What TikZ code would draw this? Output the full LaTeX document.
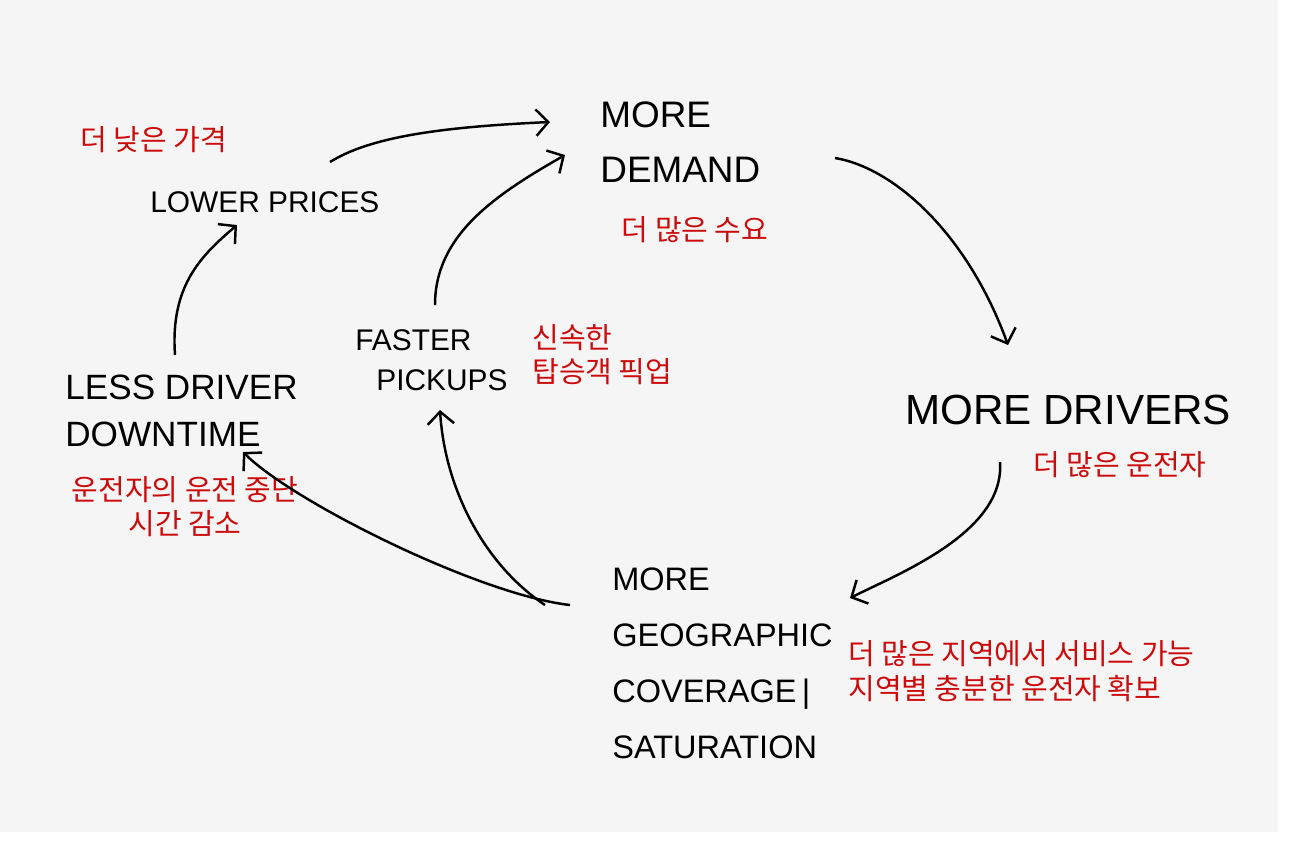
\documentclass[tikz,border=0pt]{standalone}
\usepackage{fontspec}
\setmainfont{Liberation Sans}
\newfontfamily\krfont{Noto Sans CJK KR}
\usetikzlibrary{calc}
\usetikzlibrary{arrows.meta}
\definecolor{krred}{RGB}{204,12,12}
\tikzset{hand/.style={inner sep=0, black, align=left},
         note/.style={inner sep=0, krred, font=\krfont\fontsize{16.5}{19.5}\selectfont},
         flow/.style={line width=1.4pt, -{Straight Barb[length=7pt,width=15pt,line width=1.4pt]}}}

\begin{document}
\begin{tikzpicture}  [x=.02cm, y=-.02cm]
\useasboundingbox (0,0) rectangle (1304,853);
\fill[white] (0,0) rectangle (1304,853);
\fill[black!4] (0,0) rectangle (1278,832);

\node[hand, anchor=west, font=\fontsize{17}{20}\selectfont] (prices) at (150,202) {LOWER PRICES};
\node[note, anchor=west] (kprices) at (80,140) {더 낮은 가격};
\node[hand, anchor=west, font=\fontsize{21}{31}\selectfont] (demand) at (600,142) {MORE\\DEMAND};
\node[note] (kdemand) at (695,230) {더 많은 수요};
\node[hand, anchor=west, font=\fontsize{24}{28}\selectfont] (drivers) at (905,410) {MORE DRIVERS};
\node[note, anchor=west] (kdrivers) at (1033,465) {더 많은 운전자};
\node[hand, anchor=north west, font=\fontsize{18.5}{32}\selectfont] (geo) at (612,567) {MORE\\GEOGRAPHIC\\COVERAGE\,|\\SATURATION};
\node[note, anchor=west, align=left] (kgeo) at (848,671) {더 많은 지역에서 서비스 가능\\지역별 충분한 운전자 확보};
\node[hand, anchor=west, font=\fontsize{20}{26.7}\selectfont] (downtime) at (65,411) {LESS DRIVER\\DOWNTIME};
\node[note, align=center] (kdowntime) at (185,507) {운전자의 운전 중단\\시간 감소};
\node[hand, anchor=west, font=\fontsize{17}{23}\selectfont] (pickups) at (355,360) {FASTER\\\hspace*{12pt}PICKUPS};
\node[note, anchor=west, align=left] (kpickups) at (532,355) {신속한\\탑승객 픽업};

% loop connectors
\draw[flow] ($(prices.west)+(180,-40)$) .. controls +(40,-25) and +(-110,5) .. ($(demand.west)+(-50,-20)$);
\draw[flow] ($(pickups.west)+(80,-55)$) .. controls +(0,-70) and +(-70,40) .. ($(demand.west)+(-35,13)$);
\draw[flow] ($(demand.west)+(235,16)$) .. controls +(60,10) and +(-40,-110) .. ($(drivers.west)+(103,-65)$);
\draw[flow] ($(drivers.west)+(95,52)$) .. controls +(5,70) and +(50,-25) .. ($(geo.north west)+(238,31)$);
\draw[flow] ($(geo.north west)+(-42,38)$) .. controls +(-90,-10) and +(50,50) .. ($(downtime.west)+(178,41)$);
\draw[flow] ($(geo.north west)+(-67,38)$) .. controls +(-60,-40) and +(5,80) .. ($(pickups.west)+(85,50)$);
\draw[flow] ($(downtime.west)+(110,-56)$) .. controls +(-5,-70) and +(-35,30) .. ($(prices.west)+(87,23)$);

\end{tikzpicture}
\end{document}
